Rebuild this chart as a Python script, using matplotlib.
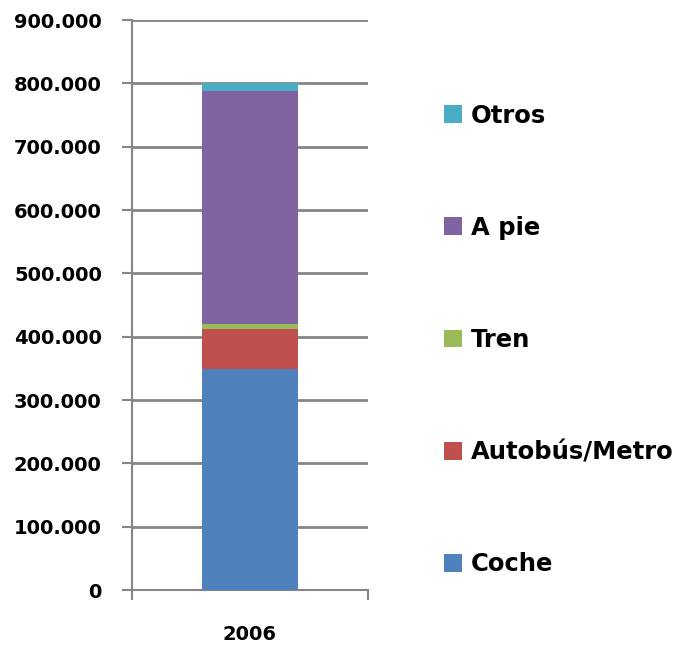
import matplotlib
matplotlib.use("Agg")
import matplotlib.pyplot as plt
from matplotlib.ticker import FuncFormatter, MultipleLocator
from matplotlib.patches import Patch

categories = ["2006"]
series_names = ["Coche", "Autobús/Metro", "Tren", "A pie", "Otros"]
coche = [349000]
autobus_metro = [62500]
tren = [8000]
a_pie = [368000]
otros = [13000]
series_values = [coche, autobus_metro, tren, a_pie, otros]
colors = ["#4F81BD", "#C0504D", "#9BBB59", "#8064A2", "#4BACC6"]

plt.rcParams['font.family'] = ['DejaVu Sans']
fig = plt.figure(figsize=(6.82, 6.46), dpi=100)
ax = fig.add_axes([132/682, 1-590/646, (368-132)/682, (590-20)/646])

x = list(range(len(categories)))
bottom = [0]*len(categories)
handles = []
for name, vals, c in zip(series_names, series_values, colors):
    ax.bar(x, vals, width=0.407, bottom=bottom, color=c, edgecolor='none', zorder=3, label=name)
    bottom = [b+v for b, v in zip(bottom, vals)]
    handles.append(Patch(facecolor=c, edgecolor='none', label=name))

gray = "#868686"
ax.set_ylim(0, 900000)
ax.yaxis.set_major_locator(MultipleLocator(100000))
ax.yaxis.set_major_formatter(FuncFormatter(lambda v, p: f"{v:,.0f}".replace(",", ".")))
ax.grid(axis='y', color=gray, linewidth=2.0, zorder=0)
ax.set_xlim(-0.5, len(categories)-0.5)
ax.set_xticks([i-0.5 for i in range(len(categories)+1)])
ax.set_xticklabels([])
ax.set_xticks(x, minor=True)
ax.set_xticklabels(categories, minor=True)
ax.tick_params(axis='x', which='minor', length=0, pad=25, labelsize=14)
ax.tick_params(axis='x', which='major', length=7.5, width=1.5, color=gray, direction='out')
ax.tick_params(axis='y', length=7.2, width=1.5, color=gray, pad=14.5, labelsize=14)
for lbl in ax.get_yticklabels() + ax.get_xticklabels(minor=True):
    lbl.set_fontweight('bold')
for s in ['top', 'right']:
    ax.spines[s].set_visible(False)
for s in ['left', 'bottom']:
    ax.spines[s].set_color(gray)
    ax.spines[s].set_linewidth(1.5)

leg = fig.legend(handles=handles[::-1], loc='center left',
                 bbox_to_anchor=(444/682, 1-340/646), frameon=False,
                 prop={'size': 17.5, 'weight': 'bold'}, handlelength=0.74,
                 handleheight=0.74, handletextpad=0.37, labelspacing=3.63,
                 borderpad=0, borderaxespad=0)

fig.savefig("out.png", dpi=100)
